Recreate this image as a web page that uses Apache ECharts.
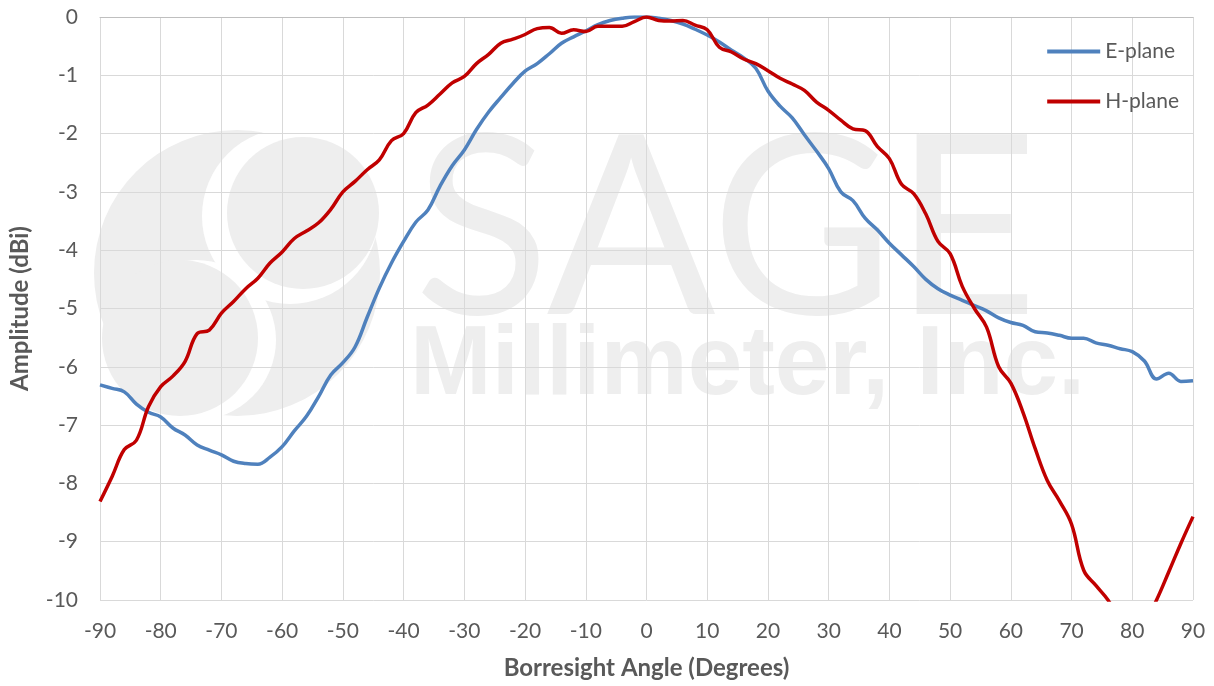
<!DOCTYPE html>
<html>
<head>
<meta charset="utf-8">
<script src="https://cdn.jsdelivr.net/npm/echarts@6/dist/echarts.min.js"></script>
<style>
  html, body { margin: 0; padding: 0; background: #fff; }
  #chart { width: 1214px; height: 686px; }
</style>
</head>
<body>
<div id="chart"></div>
<script>
// angles (degrees)
const angles = [-90, -88, -86, -84, -82, -80, -78, -76, -74, -72, -70, -68, -66, -64, -62, -60,
  -58, -56, -54, -52, -50, -48, -46, -44, -42, -40, -38, -36, -34, -32, -30, -28, -26, -24,
  -22, -20, -18, -16, -14, -12, -10, -8, -6, -4, -2, 0, 2, 4, 6, 8, 10, 12, 14, 16, 18, 20,
  22, 24, 26, 28, 30, 32, 34, 36, 38, 40, 42, 44, 46, 48, 50, 52, 54, 56, 58, 60, 62, 64,
  66, 68, 70, 72, 74, 76, 78, 80, 82, 84, 86, 88, 90];

const ePlane = [-6.31, -6.37, -6.43, -6.64, -6.78, -6.86, -7.05, -7.17, -7.34, -7.43, -7.51,
  -7.62, -7.66, -7.67, -7.55, -7.37, -7.10, -6.85, -6.51, -6.14, -5.93, -5.66, -5.15, -4.65,
  -4.22, -3.85, -3.52, -3.31, -2.90, -2.55, -2.28, -1.93, -1.63, -1.38, -1.14, -0.93, -0.80,
  -0.63, -0.45, -0.34, -0.24, -0.13, -0.06, -0.02, 0, 0, -0.02, -0.06, -0.12, -0.21, -0.31,
  -0.43, -0.57, -0.70, -0.88, -1.27, -1.53, -1.73, -2.02, -2.30, -2.60, -3.00, -3.15, -3.45,
  -3.65, -3.88, -4.08, -4.28, -4.50, -4.66, -4.77, -4.86, -4.95, -5.04, -5.16, -5.24, -5.29,
  -5.40, -5.42, -5.46, -5.51, -5.51, -5.59, -5.63, -5.69, -5.74, -5.90, -6.21, -6.11, -6.25,
  -6.24];

const hPlane = [-8.31, -7.88, -7.42, -7.26, -6.68, -6.34, -6.16, -5.91, -5.43, -5.37, -5.08,
  -4.88, -4.66, -4.48, -4.22, -4.03, -3.80, -3.67, -3.53, -3.30, -3.00, -2.82, -2.62, -2.45,
  -2.12, -2.00, -1.64, -1.51, -1.32, -1.13, -1.02, -0.80, -0.64, -0.45, -0.38, -0.30, -0.20,
  -0.18, -0.28, -0.22, -0.25, -0.16, -0.16, -0.16, -0.08, 0, -0.06, -0.07, -0.06, -0.14,
  -0.22, -0.52, -0.60, -0.72, -0.80, -0.92, -1.05, -1.15, -1.26, -1.46, -1.60, -1.77, -1.92,
  -1.95, -2.22, -2.43, -2.87, -3.03, -3.38, -3.85, -4.06, -4.62, -5.00, -5.32, -6.00, -6.28,
  -6.78, -7.40, -7.95, -8.30, -8.70, -9.49, -9.75, -10.0, -10.35, -10.5, -10.4, -10.0, -9.52,
  -9.03, -8.57];

const seriesNames = ["E-plane", "H-plane"];
const xTitle = "Borresight Angle (Degrees)";
const yTitle = "Amplitude (dBi)";

const font = "Lato, 'Open Sans', sans-serif";
const wm = "#eeeeee";

const chart = echarts.init(document.getElementById("chart"));
const option = {
  animation: false,
  backgroundColor: "#fff",
  grid: { left: 98, right: 21, top: 17, bottom: 86 },
  legend: {
    orient: "vertical",
    right: 30,
    top: 36,
    icon: "rect",
    itemWidth: 53,
    itemHeight: 4,
    itemGap: 29,
    textStyle: { fontFamily: font, fontSize: 21, color: "#595959" },
    data: seriesNames
  },
  // watermark logo and text, drawn behind the grid
  graphic: [
    { type: "circle", z: -10, shape: { cx: 237, cy: 273, r: 143 }, style: { fill: wm } },
    { type: "circle", z: -9, shape: { cx: 290, cy: 216, r: 88 }, style: { fill: "#fff" } },
    { type: "circle", z: -8, shape: { cx: 303, cy: 213, r: 76 }, style: { fill: wm } },
    { type: "circle", z: -9, shape: { cx: 196, cy: 340, r: 80 }, style: { fill: "#fff" } },
    { type: "circle", z: -8, shape: { cx: 180, cy: 338, r: 78 }, style: { fill: wm } },
    { type: "text", z: -8, left: 414, top: 108, style: { text: "SAGE", font: "400 250px Lato, sans-serif", fill: wm } },
    { type: "text", z: -8, left: 410, top: 318, style: { text: "Millimeter, Inc.", font: "bold 98px 'Liberation Sans', sans-serif", fill: wm } }
  ],
  xAxis: {
    type: "value",
    min: -90,
    max: 90,
    interval: 10,
    name: xTitle,
    nameLocation: "middle",
    nameGap: 56,
    nameTextStyle: { fontFamily: font, fontSize: 24, fontWeight: "bold", color: "#595959" },
    axisLine: { show: true, lineStyle: { color: "#bfbfbf", width: 1 } },
    axisTick: { show: false },
    axisLabel: { fontFamily: font, fontSize: 21, color: "#595959", margin: 21 },
    splitLine: { show: true, lineStyle: { color: "#d9d9d9", width: 1 } }
  },
  yAxis: {
    type: "value",
    min: -10,
    max: 0,
    interval: 1,
    name: yTitle,
    nameLocation: "middle",
    nameGap: 68,
    nameTextStyle: { fontFamily: font, fontSize: 24, fontWeight: "bold", color: "#595959" },
    axisLine: { show: false },
    axisTick: { show: false },
    axisLabel: { fontFamily: font, fontSize: 21, color: "#595959", margin: 22 },
    splitLine: { show: true, lineStyle: { color: "#d9d9d9", width: 1 } }
  },
  series: [
    {
      name: seriesNames[0],
      type: "line",
      smooth: 0.4,
      symbol: "none",
      clip: true,
      lineStyle: { color: "#4f81bd", width: 3.5 },
      itemStyle: { color: "#4f81bd" },
      data: angles.map((a, i) => [a, ePlane[i]])
    },
    {
      name: seriesNames[1],
      type: "line",
      smooth: 0.4,
      symbol: "none",
      clip: true,
      lineStyle: { color: "#c00000", width: 3.5 },
      itemStyle: { color: "#c00000" },
      data: angles.map((a, i) => [a, hPlane[i]])
    }
  ]
};
chart.setOption(option);
</script>
</body>
</html>
